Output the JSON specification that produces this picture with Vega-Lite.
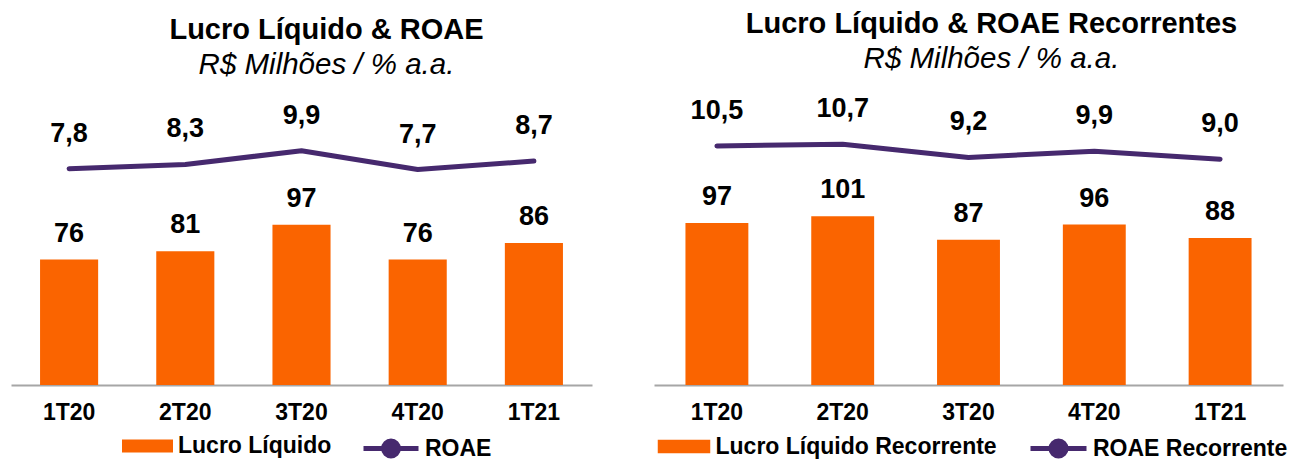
{
  "$schema": "https://vega.github.io/schema/vega-lite/v6.json",
  "padding": {"left": 11, "top": 9, "right": 0, "bottom": 0},
  "background": "#ffffff",
  "config": {
    "font": "Liberation Sans",
    "view": {"stroke": null},
    "concat": {"spacing": 62},
    "locale": {"number": {"decimal": ",", "thousands": ".", "grouping": [3], "currency": ["R$", ""]}},
    "axis": {"grid": false},
    "legend": {"padding": 0, "labelFontSize": 23, "labelFontWeight": "bold", "labelColor": "#000000", "labelFont": "Liberation Sans", "labelLimit": 500, "orient": "none", "direction": "horizontal", "title": null}
  },
  "resolve": {"scale": {"fill": "independent", "stroke": "independent"}, "legend": {"fill": "independent", "stroke": "independent"}},
  "hconcat": [
    {
      "width": 581,
      "height": 284,
      "title": {"text": "Lucro Líquido & ROAE", "subtitle": "R$ Milhões / % a.a.", "fontSize": 29, "fontWeight": "bold", "color": "#000000", "subtitleFontSize": 29.5, "subtitleFontStyle": "italic", "subtitleColor": "#000000", "subtitleFont": "Liberation Sans", "subtitlePadding": 6, "anchor": "middle", "dx": 25, "offset": 22},
      "data": {"values": [
        {"q": "1T20", "lucro": 76, "roae": 7.8},
        {"q": "2T20", "lucro": 81, "roae": 8.3},
        {"q": "3T20", "lucro": 97, "roae": 9.9},
        {"q": "4T20", "lucro": 76, "roae": 7.7},
        {"q": "1T21", "lucro": 86, "roae": 8.7}
      ]},
      "encoding": {
        "x": {"field": "q", "type": "ordinal", "sort": null, "title": null,
              "scale": {"paddingInner": 0.5, "paddingOuter": 0.25},
              "axis": {"labelAngle": 0, "labelFontSize": 23, "labelFontWeight": "bold", "labelColor": "#000000", "labelPadding": 16, "ticks": false, "domainColor": "#A6A6A6", "domainWidth": 2}}
      },
      "layer": [
        {
          "layer": [
            {"mark": {"type": "bar"},
             "encoding": {
               "y": {"field": "lucro", "type": "quantitative", "scale": {"domain": [0, 172], "nice": false, "zero": false}, "axis": null},
               "fill": {"datum": "Lucro Líquido", "type": "nominal", "scale": {"range": ["#FA6400"]},
                        "legend": {"legendX": 111, "legendY": 319.5, "symbolType": "M-1,-0.255H1V0.255H-1Z", "symbolSize": 2601, "labelOffset": 5, "symbolStrokeWidth": 0}}
             }},
            {"mark": {"type": "text", "baseline": "alphabetic", "dy": -18, "fontSize": 27, "fontWeight": "bold", "color": "#000000"},
             "encoding": {
               "y": {"field": "lucro", "type": "quantitative"},
               "text": {"field": "lucro", "type": "quantitative", "format": "d"}
             }}
          ]
        },
        {
          "layer": [
            {"mark": {"type": "line", "strokeWidth": 5, "strokeCap": "round", "strokeJoin": "round"},
             "encoding": {
               "y": {"field": "roae", "type": "quantitative", "scale": {"domain": [-17.65, 15.76], "nice": false, "zero": false}, "axis": null},
               "stroke": {"datum": "ROAE", "type": "nominal", "scale": {"range": ["#46296E"]},
                          "legend": {"legendX": 350, "legendY": 317.5, "symbolType": "M-1,0H1M-0.27,0A0.27,0.27 0 1,1 0.27,0A0.27,0.27 0 1,1 -0.27,0Z", "symbolSize": 3025, "symbolStrokeWidth": 5, "labelOffset": 4,
                                     "encode": {"symbols": {"update": {"fill": {"value": "#46296E"}, "stroke": {"value": "#46296E"}}}}}}
             }},
            {"mark": {"type": "text", "baseline": "alphabetic", "dy": -27, "fontSize": 27, "fontWeight": "bold", "color": "#000000"},
             "encoding": {
               "y": {"field": "roae", "type": "quantitative"},
               "text": {"field": "roae", "type": "quantitative", "format": ".1f"}
             }}
          ]
        }
      ],
      "resolve": {"scale": {"y": "independent"}}
    },
    {
      "width": 629,
      "height": 284,
      "title": {"text": "Lucro Líquido & ROAE Recorrentes", "subtitle": "R$ Milhões / % a.a.", "fontSize": 29, "fontWeight": "bold", "color": "#000000", "subtitleFontSize": 29.5, "subtitleFontStyle": "italic", "subtitleColor": "#000000", "subtitleFont": "Liberation Sans", "subtitlePadding": 6, "anchor": "middle", "dx": 23, "offset": 22},
      "data": {"values": [
        {"q": "1T20", "lucro": 97, "roae": 10.5},
        {"q": "2T20", "lucro": 101, "roae": 10.7},
        {"q": "3T20", "lucro": 87, "roae": 9.2},
        {"q": "4T20", "lucro": 96, "roae": 9.9},
        {"q": "1T21", "lucro": 88, "roae": 9.0}
      ]},
      "encoding": {
        "x": {"field": "q", "type": "ordinal", "sort": null, "title": null,
              "scale": {"paddingInner": 0.5, "paddingOuter": 0.25},
              "axis": {"labelAngle": 0, "labelFontSize": 23, "labelFontWeight": "bold", "labelColor": "#000000", "labelPadding": 16, "ticks": false, "domainColor": "#A6A6A6", "domainWidth": 2}}
      },
      "layer": [
        {
          "layer": [
            {"mark": {"type": "bar"},
             "encoding": {
               "y": {"field": "lucro", "type": "quantitative", "scale": {"domain": [0, 170], "nice": false, "zero": false}, "axis": null},
               "fill": {"datum": "Lucro Líquido Recorrente", "type": "nominal", "scale": {"range": ["#FA6400"]},
                        "legend": {"legendX": 3.5, "legendY": 319, "symbolType": "M-1,-0.255H1V0.255H-1Z", "symbolSize": 2756, "labelOffset": 5, "symbolStrokeWidth": 0}}
             }},
            {"mark": {"type": "text", "baseline": "alphabetic", "dy": -18, "fontSize": 27, "fontWeight": "bold", "color": "#000000"},
             "encoding": {
               "y": {"field": "lucro", "type": "quantitative"},
               "text": {"field": "lucro", "type": "quantitative", "format": "d"}
             }}
          ]
        },
        {
          "layer": [
            {"mark": {"type": "line", "strokeWidth": 5, "strokeCap": "round", "strokeJoin": "round"},
             "encoding": {
               "y": {"field": "roae", "type": "quantitative", "scale": {"domain": [-16.6, 15.6], "nice": false, "zero": false}, "axis": null},
               "stroke": {"datum": "ROAE Recorrente", "type": "nominal", "scale": {"range": ["#46296E"]},
                          "legend": {"legendX": 374, "legendY": 317, "symbolType": "M-1,0H1M-0.27,0A0.27,0.27 0 1,1 0.27,0A0.27,0.27 0 1,1 -0.27,0Z", "symbolSize": 3136, "symbolStrokeWidth": 5, "labelOffset": 4,
                                     "encode": {"symbols": {"update": {"fill": {"value": "#46296E"}, "stroke": {"value": "#46296E"}}}}}}
             }},
            {"mark": {"type": "text", "baseline": "alphabetic", "dy": -27, "fontSize": 27, "fontWeight": "bold", "color": "#000000"},
             "encoding": {
               "y": {"field": "roae", "type": "quantitative"},
               "text": {"field": "roae", "type": "quantitative", "format": ".1f"}
             }}
          ]
        }
      ],
      "resolve": {"scale": {"y": "independent"}}
    }
  ]
}
